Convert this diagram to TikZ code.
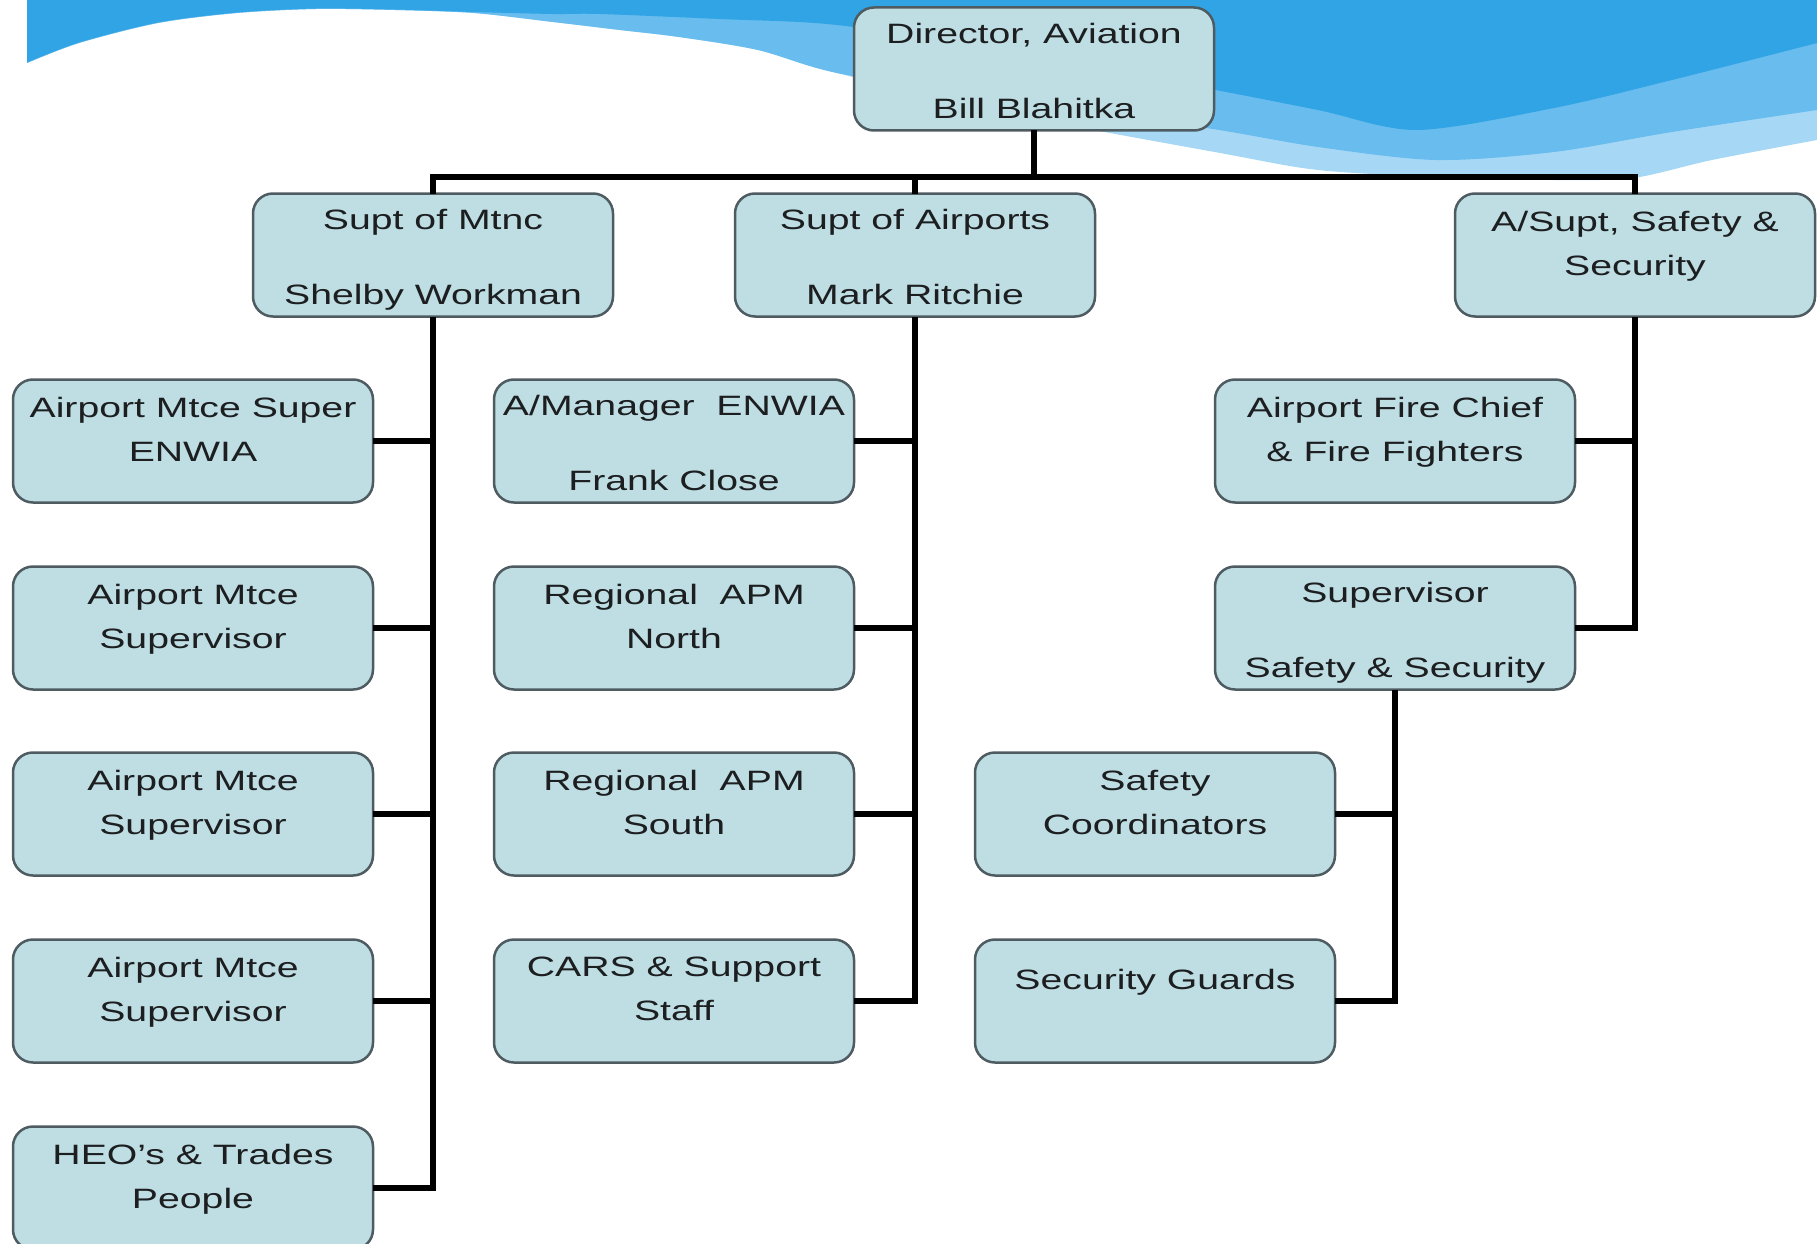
\documentclass[tikz,border=0pt]{standalone}
\usepackage{fontspec}
\setmainfont{Liberation Sans}[FakeStretch=1.4]

\definecolor{boxfill}{RGB}{190,222,228}
\definecolor{boxline}{RGB}{78,92,98}
\definecolor{boxtext}{RGB}{28,30,32}
\definecolor{wavedark}{RGB}{48,164,228}
\definecolor{wavemid}{RGB}{104,188,238}
\definecolor{wavelight}{RGB}{166,216,246}

\tikzset{
  orgbox/.style={draw=boxline, line width=2.5pt, fill=boxfill,
    rounded corners=20pt, minimum width=360pt, minimum height=123pt,
    inner sep=0pt, outer sep=0pt, align=center, text=boxtext,
    font=\fontsize{28}{44}\selectfont},
  link/.style={line width=6pt, black, line join=miter},
}

\begin{document}
\begin{tikzpicture}[x=1pt,y=-1pt]
  \useasboundingbox (0,0) rectangle (1817,1244);
  % wave at the top
  \fill[wavelight] (27,0) -- plot[smooth] coordinates {(27,63) (79,43) (158,23)
    (237,13) (316,9) (395,10) (474,13) (553,22) (620,30) (679,37) (758,50)
    (837,73) (1000,112) (1220,153) (1318,170) (1436,177) (1554,180) (1633,178)
    (1712,160) (1817,140)} -- (1817,0) -- cycle;
  \fill[wavemid] (27,0) -- plot[smooth] coordinates {(27,63) (79,43) (158,23)
    (237,13) (316,9) (395,10) (474,13) (553,22) (620,30) (679,37) (758,50)
    (837,73) (1000,100) (1200,127) (1318,147) (1436,160) (1554,152) (1672,132)
    (1817,110)} -- (1817,0) -- cycle;
  \fill[wavedark] (27,0) -- plot[smooth] coordinates {(27,62.5) (79,42.5)
    (158,22.5) (237,12.5) (316,8.5) (395,9.5) (474,12) (553,14) (600,14)
    (719,19) (837,25) (1000,50) (1200,87) (1318,110) (1417,130) (1554,108)
    (1672,80) (1817,43)} -- (1817,0) -- cycle;

  % top levels
  \node[orgbox] (dir) at (1034,69) {Director, Aviation\\[31pt]Bill Blahitka\\[-48pt]\mbox{}};
  \node[orgbox] (mtnc) at (433,255) {Supt of Mtnc\\[31pt]Shelby Workman\\[-48pt]\mbox{}};
  \node[orgbox] (apt) at (915,255) {Supt of Airports\\[31pt]Mark Ritchie\\[-48pt]\mbox{}};
  \node[orgbox] (safe) at (1635,255) {A/Supt, Safety \&\\Security\\[-20pt]\mbox{}};

  % maintenance
  \node[orgbox] (ms1) at (193,441) {Airport Mtce Super\\ENWIA\\[-20pt]\mbox{}};
  \node[orgbox] (ms2) at (193,628) {Airport Mtce\\Supervisor\\[-20pt]\mbox{}};
  \node[orgbox] (ms3) at (193,814) {Airport Mtce\\Supervisor\\[-20pt]\mbox{}};
  \node[orgbox] (ms4) at (193,1001) {Airport Mtce\\Supervisor\\[-20pt]\mbox{}};
  \node[orgbox] (heo) at (193,1188) {HEO’s \& Trades\\People\\[-20pt]\mbox{}};

  % airports
  \node[orgbox] (mgr) at (674,441) {A/Manager\ \ ENWIA\\[31pt]Frank Close\\[-48pt]\mbox{}};
  \node[orgbox] (apmn) at (674,628) {Regional\ \ APM\\North\\[-20pt]\mbox{}};
  \node[orgbox] (apms) at (674,814) {Regional\ \ APM\\South\\[-20pt]\mbox{}};
  \node[orgbox] (cars) at (674,1001) {CARS \& Support\\Staff\\[-20pt]\mbox{}};

  % safety and security
  \node[orgbox] (fire) at (1395,441) {Airport Fire Chief\\\& Fire Fighters\\[-20pt]\mbox{}};
  \node[orgbox] (supv) at (1395,628) {Supervisor\\[31pt]Safety \& Security\\[-48pt]\mbox{}};
  \node[orgbox] (coord) at (1155,814) {Safety\\Coordinators\\[-20pt]\mbox{}};
  \node[orgbox] (guard) at (1155,1001) {Security Guards\\\mbox{}};

  % connectors
  \coordinate (bus) at (1034,177);
  \draw[link] (dir.south) -- (bus);
  \draw[link] (mtnc.north) |- (bus) -| (safe.north);
  \draw[link] (apt.north) -- (apt.north |- bus);
  \draw[link] (mtnc.south) |- (heo.east);
  \foreach \n in {ms1,ms2,ms3,ms4}
    \draw[link] (\n.east) -- (mtnc.south |- \n.east);
  \draw[link] (apt.south) |- (cars.east);
  \foreach \n in {mgr,apmn,apms}
    \draw[link] (\n.east) -- (apt.south |- \n.east);
  \draw[link] (safe.south) |- (supv.east);
  \draw[link] (fire.east) -- (safe.south |- fire.east);
  \draw[link] (supv.south) |- (guard.east);
  \draw[link] (coord.east) -- (supv.south |- coord.east);
\end{tikzpicture}
\end{document}
